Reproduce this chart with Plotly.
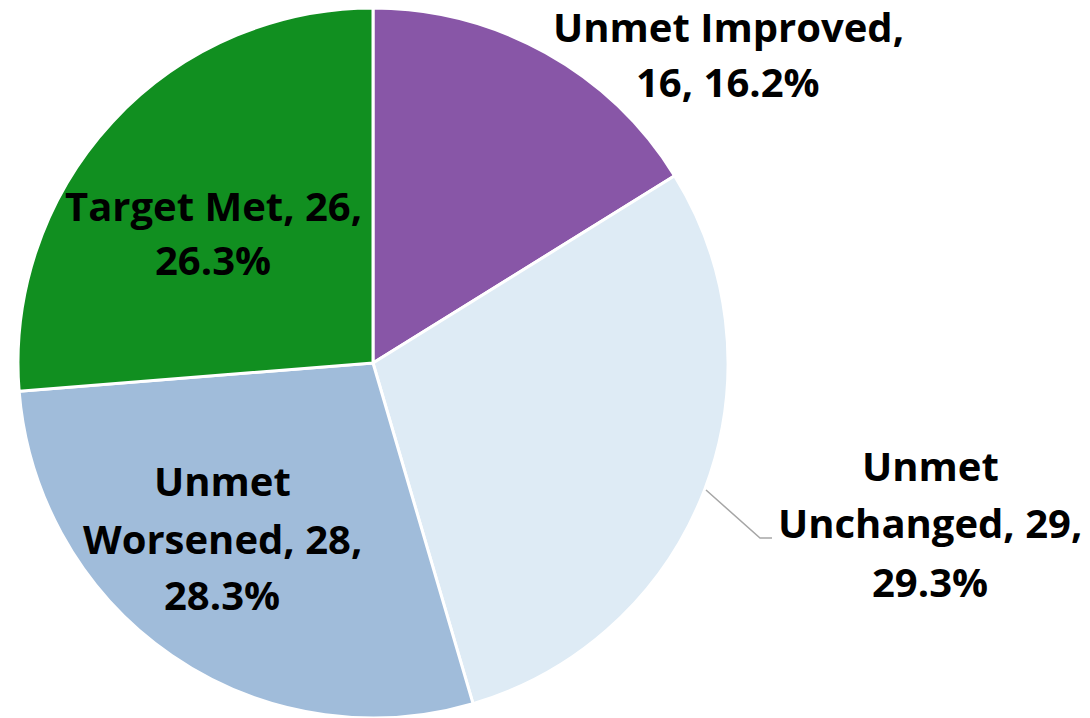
import plotly.graph_objects as go

categories = ["Unmet Improved", "Unmet Unchanged", "Unmet Worsened", "Target Met"]
values = [16, 29, 28, 26]
colors = ["#8856A7", "#DEEBF5", "#A0BCDA", "#118F20"]

# label line-break layouts
label_lines = [
    ["Unmet Improved,", "{v}, {p}"],
    ["Unmet", "Unchanged, {v},", "{p}"],
    ["Unmet", "Worsened, {v},", "{p}"],
    ["Target Met, {v},", "{p}"],
]
# label placement (screen pixels): centre x, and the centre y of each line
label_x = [728, 930, 222, 213]
label_ys = [[29, 84], [467, 524, 583], [482, 540, 596], [207, 262]]

OFF = 8  # page body margin
W, H = 1090 - OFF, 718 - OFF
total = sum(values)
FONT = 40


def fx(px):
    return (px - OFF) / W


def fy(py):
    return 1 - (py - OFF) / H


fig = go.Figure(go.Pie(
    labels=categories,
    values=values,
    sort=False,
    direction="clockwise",
    rotation=0,
    marker=dict(colors=colors, line=dict(color="white", width=3)),
    textinfo="none",
    hoverinfo="label+value+percent",
    showlegend=False,
    domain=dict(x=[10 / W, 720 / W], y=[0, 1]),
))

annotations = []
for lines, px, ys, v in zip(label_lines, label_x, label_ys, values):
    p = f"{v / total * 100:.1f}%"
    for line, py in zip(lines, ys):
        annotations.append(dict(
            x=fx(px), y=fy(py - 2), xref="paper", yref="paper",
            xanchor="center", yanchor="middle", showarrow=False,
            text="<b>" + line.format(v=v, p=p) + "</b>", align="center",
            font=dict(family="Open Sans", size=FONT, color="black"),
        ))

fig.update_layout(
    width=W, height=H,
    margin=dict(l=0, r=0, t=0, b=0),
    paper_bgcolor="white", plot_bgcolor="white",
    annotations=annotations,
    shapes=[dict(
        type="path", xref="paper", yref="paper",
        path=f"M {fx(706)} {fy(490)} L {fx(760)} {fy(538)} L {fx(772)} {fy(538)}",
        line=dict(color="#A6A6A6", width=1.5),
    )],
)

fig.write_html("out.html")
